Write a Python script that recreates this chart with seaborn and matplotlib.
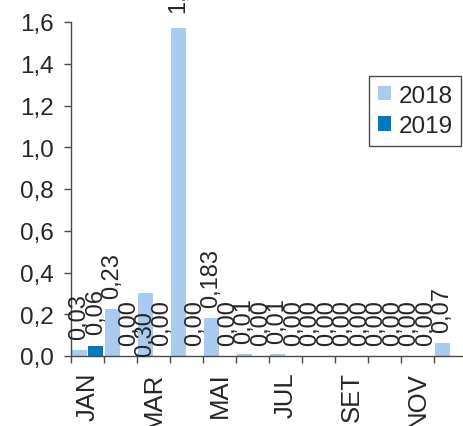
import numpy as np
import pandas as pd
import matplotlib
matplotlib.use('Agg')
import matplotlib.pyplot as plt
import seaborn as sns
from matplotlib.ticker import FuncFormatter

# data
months = ['JAN', 'FEV', 'MAR', 'ABR', 'MAI', 'JUN', 'JUL', 'AGO', 'SET', 'OUT', 'NOV', 'DEZ']
years = ['2018', '2019']
vals_2018 = [0.027, 0.225, 0.30, 1.573, 0.18, 0.008, 0.008, 0.0, 0.0, 0.0, 0.0, 0.062]
vals_2019 = [0.05, 0.0, 0.0, 0.0, 0.0, 0.0, 0.0, 0.0, 0.0, 0.0, 0.0, np.nan]
labels_2018 = ['0,03', '0,23', '0,30', '1,57', '0,183', '0,01', '0,01',
               '0,00', '0,00', '0,00', '0,00', '0,07']
labels_2019 = ['0,06', '0,00', '0,00', '0,00', '0,00', '0,00', '0,00',
               '0,00', '0,00', '0,00', '0,00', '']
colors = {'2018': '#A9CBF0', '2019': '#0079C1'}

df = pd.DataFrame({
    'month': months * 2,
    'year': ['2018'] * 12 + ['2019'] * 12,
    'value': vals_2018 + vals_2019,
})

sns.set_style('ticks')
plt.rcParams['font.family'] = ['Liberation Sans', 'DejaVu Sans']
fs_lab = 17
fs_x = 18.5
fs_y = 17.5

fig = plt.figure(figsize=(4.64, 4.27), dpi=100)
ax = fig.add_axes([71 / 464, 70 / 427, 396 / 464, 334 / 427])
sns.barplot(data=df, x='month', y='value', hue='year', order=months,
            hue_order=years, palette=colors, width=1.0, gap=0.12,
            linewidth=0, saturation=1, ax=ax)

ax.set_xlim(-0.5, 11.5)
ax.set_ylim(0, 1.6)
ax.set_yticks(np.arange(0, 1.61, 0.2))
ax.yaxis.set_major_formatter(FuncFormatter(lambda v, p: f'{v:.1f}'.replace('.', ',')))
ax.set_xlabel('')
ax.set_ylabel('')

# category boundaries as ticks, month names every other category
ax.set_xticks(np.arange(-0.5, 12, 1))
ax.set_xticklabels([])
ax.set_xticks(range(0, 12, 2), minor=True)
ax.set_xticklabels(months[::2], minor=True, rotation=90, fontsize=fs_x)
ax.tick_params(axis='x', which='major', length=5.3, width=1, color='#4a4a4a')
ax.tick_params(axis='x', which='minor', length=0, pad=11)
ax.tick_params(axis='y', length=5.3, width=1, color='#4a4a4a', pad=7, labelsize=fs_y)

for s in ['top', 'right']:
    ax.spines[s].set_visible(False)
for s in ['left', 'bottom']:
    ax.spines[s].set_color('#4a4a4a')
    ax.spines[s].set_linewidth(1)

# value labels
for cont, labs in zip(ax.containers, [labels_2018, labels_2019]):
    labs = labs[:len(cont)]
    lab_top = [l if l != '0,30' else '' for l in labs]
    anns = ax.bar_label(cont, labels=lab_top, rotation=90, padding=8,
                        fontsize=fs_lab, annotation_clip=False)
    for a in anns:
        if a.get_text() == '1,57':
            a.xyann = (0, 11)
    for bar, l in zip(cont, labs):
        if l == '0,30':
            ax.annotate(l, (bar.get_x() + bar.get_width() / 2, 0),
                        xytext=(0, 0), textcoords='offset points',
                        rotation=90, ha='center', va='bottom', fontsize=fs_lab)

ax.legend(loc='upper right', bbox_to_anchor=(461 / 464, 1 - 77 / 427),
          bbox_transform=fig.transFigure, frameon=True, fancybox=False,
          edgecolor='#4a4a4a', framealpha=1, handlelength=0.55,
          handleheight=0.55, handletextpad=0.3, borderpad=0.35,
          labelspacing=0.35, fontsize=fs_y, borderaxespad=0, title=None)
ax.get_legend().get_frame().set_linewidth(1)

fig.savefig('out.png', dpi=100)
